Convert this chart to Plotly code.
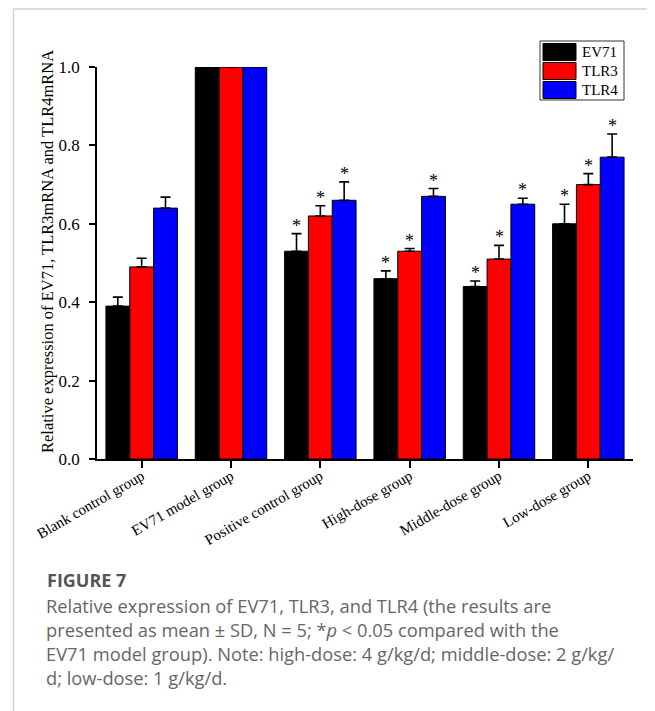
import plotly.graph_objects as go

# ---------------- data ----------------
groups = ["Blank control group", "EV71 model group", "Positive control group",
          "High-dose group", "Middle-dose group", "Low-dose group"]
series_names = ["EV71", "TLR3", "TLR4"]
ev71_mean = [0.39, 1.00, 0.53, 0.46, 0.44, 0.60]
ev71_sd = [0.023, 0.0, 0.045, 0.020, 0.014, 0.050]
tlr3_mean = [0.49, 1.00, 0.62, 0.53, 0.51, 0.70]
tlr3_sd = [0.022, 0.0, 0.026, 0.007, 0.035, 0.028]
tlr4_mean = [0.64, 1.00, 0.66, 0.67, 0.65, 0.77]
tlr4_sd = [0.028, 0.0, 0.047, 0.020, 0.015, 0.059]
significant = [False, False, True, True, True, True]
y_ticks = [0.0, 0.2, 0.4, 0.6, 0.8, 1.0]
y_tick_labels = ["0.0", "0.2", "0.4", "0.6", "0.8", "1.0"]

means = [ev71_mean, tlr3_mean, tlr4_mean]
sds = [ev71_sd, tlr3_sd, tlr4_sd]
colors = ["#000000", "#FF0000", "#0000FF"]

# ---------------- layout geometry ----------------
# page offset introduced by the default 8px body margin
OFF = 8
W, H = 655 - OFF, 711 - OFF
# plot area in page pixels
PL, PR, PT, PB = 97, 633, 67, 459
L, R, T, B = PL - OFF, PR - OFF, PT - OFF, PB - OFF
SERIF = "Liberation Serif, Times New Roman, serif"
SANS = "Open Sans, Noto Sans, sans-serif"


def px(x):
    """page x pixel -> paper coordinate"""
    return (x - OFF - L) / (R - L)


def py(y):
    """page y pixel -> paper coordinate"""
    return (B - (y - OFF)) / (B - T)


fig = go.Figure()
for name, m, s, c in zip(series_names, means, sds, colors):
    fig.add_trace(go.Bar(
        name=name, x=groups, y=m,
        marker=dict(color=c, line=dict(color="#000000", width=1)),
        error_y=dict(type="data", symmetric=False, array=s,
                     arrayminus=[0] * len(s), color="#000000",
                     thickness=1.6, width=5),
        showlegend=False,
    ))

annotations = []
# significance stars
nser = len(series_names)
bw = 0.8 / nser
for j, (m, s) in enumerate(zip(means, sds)):
    off = (j - (nser - 1) / 2) * bw
    for i, g in enumerate(groups):
        if significant[i]:
            annotations.append(dict(
                x=i + off, y=m[i] + s[i], xref="x", yref="y",
                text="*", showarrow=False, yanchor="bottom",
                yshift=-4, font=dict(family=SERIF, size=18, color="#000000")))

# y-axis title
annotations.append(dict(
    x=px(47), y=py(252), xref="paper", yref="paper",
    text="Relative expression of EV71, TLR3mRNA and TLR4mRNA",
    textangle=-90, showarrow=False, xanchor="center", yanchor="middle",
    font=dict(family=SERIF, size=16.5, color="#000000")))

shapes = []
# custom legend
lx0, lx1, ly0, ly1 = 540, 624, 41, 100
shapes.append(dict(type="rect", xref="paper", yref="paper",
                   x0=px(lx0), x1=px(lx1), y0=py(ly1), y1=py(ly0),
                   line=dict(color="#333333", width=1), fillcolor="white"))
row_h = 19
for k, (name, c) in enumerate(zip(series_names, colors)):
    yc = 52 + k * row_h
    shapes.append(dict(type="rect", xref="paper", yref="paper",
                       x0=px(543), x1=px(576), y0=py(yc + 8.5), y1=py(yc - 8.5),
                       line=dict(color="#000000", width=1), fillcolor=c))
    annotations.append(dict(x=px(580), y=py(yc), xref="paper", yref="paper",
                            text=name, showarrow=False, xanchor="left",
                            yanchor="middle",
                            font=dict(family=SERIF, size=15, color="#000000")))

# card border
shapes.append(dict(type="line", xref="paper", yref="paper",
                   x0=px(13.5), x1=px(13.5), y0=py(711), y1=py(9),
                   line=dict(color="#d2d2d2", width=1.5)))
shapes.append(dict(type="line", xref="paper", yref="paper",
                   x0=px(13), x1=px(655), y0=py(9), y1=py(9),
                   line=dict(color="#d2d2d2", width=1.5)))

# caption
annotations.append(dict(x=px(45), y=py(580), xref="paper", yref="paper",
                        text="<b>FIGURE 7</b>", showarrow=False,
                        xanchor="left", yanchor="middle",
                        font=dict(family=SANS, size=18, color="#555555")))
caption_lines = [
    "Relative expression of EV71, TLR3, and TLR4 (the results are",
    "presented as mean ± SD, N = 5; *<i>p</i> &lt; 0.05 compared with the",
    "EV71 model group). Note: high-dose: 4 g/kg/d; middle-dose: 2 g/kg/",
    "d; low-dose: 1 g/kg/d.",
]
for k, line in enumerate(caption_lines):
    annotations.append(dict(x=px(44), y=py(605 + k * 24.3), xref="paper",
                            yref="paper", text=line, showarrow=False,
                            xanchor="left", yanchor="middle",
                            font=dict(family=SANS, size=18.3, color="#666666")))

fig.update_layout(
    width=W, height=H,
    margin=dict(l=L, r=W - R, t=T, b=H - B),
    paper_bgcolor="white", plot_bgcolor="white",
    barmode="group", bargap=0.2, bargroupgap=0,
    annotations=annotations, shapes=shapes,
    xaxis=dict(type="category", range=[-0.5, 5.5], showline=True,
               linecolor="#000000", linewidth=1.5, ticks="outside",
               ticklen=7, tickwidth=1.5, tickcolor="#000000",
               tickangle=-30, showgrid=False, zeroline=False,
               ticklabelstandoff=-6,
               tickfont=dict(family=SERIF, size=15, color="#000000")),
    yaxis=dict(range=[0, 1.0], showline=True, linecolor="#000000",
               linewidth=1.5, ticks="outside", ticklen=6, tickwidth=1.5,
               tickcolor="#000000", tickvals=y_ticks, ticktext=y_tick_labels,
               showgrid=False, zeroline=False, ticklabelstandoff=6,
               tickfont=dict(family=SERIF, size=17, color="#000000")),
)

fig.write_html("out.html")
